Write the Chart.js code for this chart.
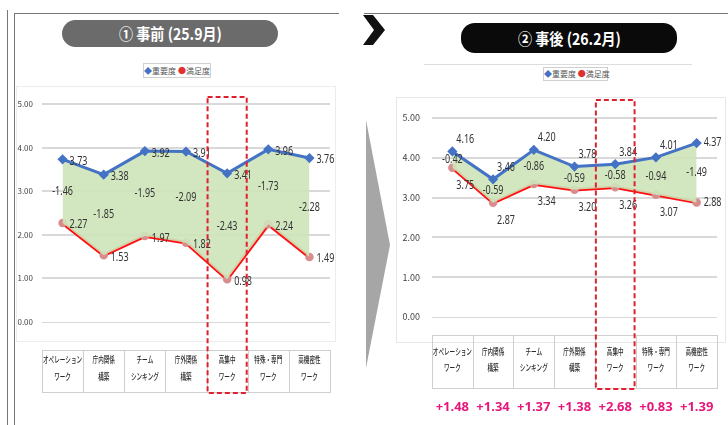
<!DOCTYPE html>
<html>
<head>
<meta charset="utf-8">
<script src="https://cdn.jsdelivr.net/npm/chart.js@4.4.1/dist/chart.umd.min.js"></script>
<style>
  body { margin: 0; width: 728px; height: 425px; overflow: hidden; background: #fff; position: relative; font-family: "Noto Sans CJK JP", sans-serif; }
  .abs { position: absolute; }
  .pill { position: absolute; color: #fff; font-weight: bold; font-size: 16px; text-align: center; border-radius: 14px; }
  .pill span { display: inline-block; transform: scaleX(0.88); }
  .legend { position: absolute; border: 1px solid #d0d0d0; font-size: 8px; color: #555; text-align: center; line-height: 13px; white-space: nowrap; }
  canvas { position: absolute; }
</style>
</head>
<body>
<!-- frame lines -->
<div class="abs" style="left:7px;top:10px;width:1px;height:415px;background:#777"></div>
<div class="abs" style="left:14px;top:13px;width:324px;height:412px;border-left:1px solid #777;border-top:1px solid #777"></div>
<div class="abs" style="left:364px;top:13px;width:364px;height:1px;background:#777"></div>
<div class="abs" style="left:16px;top:86px;width:318px;height:254px;border:1px solid #ececec"></div>
<div class="abs" style="left:396px;top:97px;width:328px;height:244px;border:1px solid #e6e6e6"></div>
<div class="abs" style="left:424px;top:64px;width:268px;height:1px;background:#ddd"></div>

<div class="pill" style="left:62px;top:20px;width:216px;height:27px;line-height:27px;background:#6b6b6b"><span>① 事前 (25.9月)</span></div>
<div class="pill" style="left:461px;top:23px;width:216px;height:30px;line-height:30px;background:#0a0a0a"><span>② 事後 (26.2月)</span></div>

<div class="legend" style="left:143px;top:63px;width:66px;height:13px"><span style="color:#4472c4">◆</span>重要度 <span style="color:#e03030">●</span>満足度</div>
<div class="legend" style="left:543px;top:67px;width:63px;height:12px;line-height:12px"><span style="color:#4472c4">◆</span>重要度 <span style="color:#e03030">●</span>満足度</div>

<svg class="abs" style="left:0;top:0" width="728" height="425">
  <polygon points="363,15 373,15 385,30 373,45 363,45 374,30" fill="#111"/>
  <polygon points="366,120 390,245 366,368" fill="#a6a6a6"/>
</svg>

<canvas id="before" width="326" height="315" style="left:14px;top:85px"></canvas>
<canvas id="after" width="348" height="330" style="left:380px;top:95px"></canvas>

<script>
// categories (two lines each)
const categories = [
  ["オペレーション", "ワーク"],
  ["庁内関係", "構築"],
  ["チーム", "シンキング"],
  ["庁外関係", "構築"],
  ["高集中", "ワーク"],
  ["特殊・専門", "ワーク"],
  ["高機密性", "ワーク"]
];

// ① 事前 (25.9月)
const beforeImportance = [3.73, 3.38, 3.92, 3.91, 3.41, 3.96, 3.76];
const beforeSatisfaction = [2.27, 1.53, 1.97, 1.82, 0.98, 2.24, 1.49];
const beforeGap = [-1.46, -1.85, -1.95, -2.09, -2.43, -1.73, -2.28];

// ② 事後 (26.2月)
const afterImportance = [4.16, 3.46, 4.20, 3.78, 3.84, 4.01, 4.37];
const afterSatisfaction = [3.75, 2.87, 3.34, 3.20, 3.26, 3.07, 2.88];
const afterGap = [-0.42, -0.59, -0.86, -0.59, -0.58, -0.94, -1.49];

// 満足度の改善幅
const gains = [1.48, 1.34, 1.37, 1.38, 2.68, 0.83, 1.39];

const highlightIndex = 4;

Chart.defaults.font.family = "'Noto Sans CJK JP', sans-serif";
Chart.defaults.animation = false;

// narrow text, like the squeezed labels in the original
function squeeze(ctx, text, x, y, sx) {
  ctx.save();
  ctx.translate(x, y);
  ctx.scale(sx, 1);
  ctx.fillText(text, 0, 0);
  ctx.restore();
}

const extrasPlugin = {
  id: "extras",
  afterDatasetsDraw(chart, args, o) {
    const ctx = chart.ctx;
    const xs = chart.scales.x, ys = chart.scales.y;
    ctx.save();
    ctx.font = o.labelSize + "px 'Noto Sans', sans-serif";
    ctx.fillStyle = "#333";
    ctx.textBaseline = "middle";
    ctx.textAlign = "left";
    chart.data.datasets.forEach((ds, di) => {
      const off = di === 0 ? o.blueOff : o.redOff;
      ds.data.forEach((v, i) => {
        let d = off;
        if (i === ds.data.length - 1 && o.lastOff) d = o.lastOff;
        squeeze(ctx, v.toFixed(2), xs.getPixelForValue(i) + d[0], ys.getPixelForValue(v) + d[1], 0.75);
      });
    });
    // gap labels between the two lines
    ctx.textAlign = "center";
    o.gap.forEach((g, i) => {
      const a = chart.data.datasets[0].data[i], b = chart.data.datasets[1].data[i];
      squeeze(ctx, g.toFixed(2), xs.getPixelForValue(i), ys.getPixelForValue((a + b) / 2), 0.75);
    });
    ctx.restore();
  },
  afterDraw(chart, args, o) {
    const ctx = chart.ctx;
    const xs = chart.scales.x;
    const area = chart.chartArea;
    const half = (xs.getPixelForValue(1) - xs.getPixelForValue(0)) / 2;
    const n = chart.data.labels.length;
    const tTop = area.bottom + o.table[0], tBot = area.bottom + o.table[1];
    ctx.save();
    // category table
    ctx.strokeStyle = "#cfcfcf";
    ctx.lineWidth = 1;
    ctx.strokeRect(Math.round(xs.getPixelForValue(0) - half) + 0.5, tTop + 0.5, half * 2 * n, tBot - tTop);
    for (let i = 1; i < n; i++) {
      const x = Math.round(xs.getPixelForValue(i) - half) + 0.5;
      ctx.beginPath(); ctx.moveTo(x, tTop); ctx.lineTo(x, tBot); ctx.stroke();
    }
    ctx.font = "500 9px 'Noto Sans CJK JP', sans-serif";
    ctx.fillStyle = "#2a2a2a";
    ctx.textAlign = "center";
    ctx.textBaseline = "middle";
    chart.data.labels.forEach((lab, i) => {
      lab.forEach((line, k) => squeeze(ctx, line, xs.getPixelForValue(i), area.bottom + o.rows[k], 0.62));
    });
    // dashed highlight box
    ctx.strokeStyle = "#e02030";
    ctx.lineWidth = 2;
    ctx.setLineDash([5, 3]);
    const cx = xs.getPixelForValue(highlightIndex);
    ctx.strokeRect(cx - half + 1, area.top + o.boxTop, half * 2 - 2, tBot + 1 - (area.top + o.boxTop));
    ctx.setLineDash([]);
    // gains row
    if (o.gains) {
      ctx.font = "bold 13px 'Noto Sans', sans-serif";
      ctx.fillStyle = "#e5197b";
      o.gains.forEach((g, i) => ctx.fillText("+" + g.toFixed(2), xs.getPixelForValue(i), area.bottom + o.gainsY));
    }
    ctx.restore();
  }
};

function makeChart(id, imp, sat, gap, c) {
  return new Chart(document.getElementById(id), {
    type: "line",
    data: {
      labels: categories,
      datasets: [
        {
          label: "重要度",
          data: imp,
          borderColor: "#4472c4",
          borderWidth: 3,
          backgroundColor: "rgba(205,228,185,0.9)",
          fill: "+1",
          tension: 0,
          pointStyle: "rectRot",
          pointRadius: 3,
          pointBackgroundColor: "#4472c4",
          pointBorderColor: "#4472c4"
        },
        {
          label: "満足度",
          data: sat,
          borderColor: "#ff1010",
          borderWidth: 3.5,
          fill: false,
          tension: 0,
          pointStyle: "circle",
          pointRadius: 2.5,
          pointBackgroundColor: "#d98c8c",
          pointBorderColor: "#d98c8c"
        }
      ]
    },
    options: {
      responsive: false,
      layout: { padding: { top: c.top, right: c.right, left: 0, bottom: 0 } },
      plugins: {
        legend: { display: false },
        tooltip: { enabled: false },
        extras: {
          labelSize: c.labelSize,
          blueOff: c.blueOff,
          redOff: c.redOff,
          lastOff: c.lastOff,
          gap: gap,
          table: c.table,
          rows: c.rows,
          boxTop: c.boxTop,
          gains: c.gains,
          gainsY: c.gainsY
        }
      },
      scales: {
        x: {
          offset: true,
          grid: { display: false },
          border: { display: false },
          ticks: { display: false },
          afterFit: s => { s.height = c.xHeight; }
        },
        y: {
          min: 0,
          max: 5,
          border: { display: false },
          grid: {
            color: "#d9d9d9",
            lineWidth: ctx => (ctx.tick && ctx.tick.value === 0 ? 1 : 2),
            drawTicks: false
          },
          ticks: {
            stepSize: 1,
            padding: c.yPad,
            color: "#444",
            font: { size: c.ySize },
            callback: v => v.toFixed(2)
          },
          afterFit: s => { s.width = c.yWidth; }
        }
      }
    },
    plugins: [extrasPlugin]
  });
}

makeChart("before", beforeImportance, beforeSatisfaction, beforeGap, {
  top: 19, right: 10, yWidth: 28, yPad: 9, ySize: 8, xHeight: 78,
  labelSize: 12,
  blueOff: [7, 2], redOff: [7, 2], lastOff: null,
  table: [28, 70], rows: [38, 55], boxTop: -7, gains: null
});

makeChart("after", afterImportance, afterSatisfaction, afterGap, {
  top: 23, right: 11, yWidth: 52, yPad: 12, ySize: 9, xHeight: 108,
  labelSize: 12,
  blueOff: [4, -12], redOff: [4, 18], lastOff: [7, 0],
  table: [18, 71], rows: [35, 51], boxTop: -18, gains: gains, gainsY: 90
});
</script>
</body>
</html>
